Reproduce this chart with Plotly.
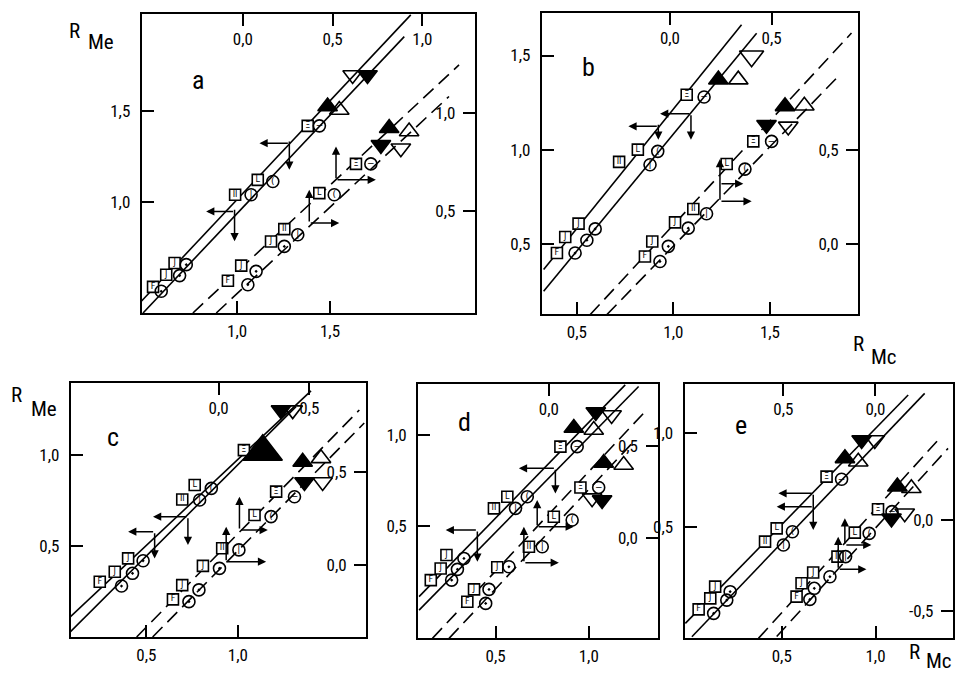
import plotly.graph_objects as go

W, H = 963, 681          # window size (reference pixel space)
OFF = 8                  # default body margin of the html page
FW, FH = W - 2 * OFF, H - 2 * OFF

# ====================== DATA ======================
# Each panel: upper group (squares/circles, solid lines) on bottom/left axes,
# lower group (dashed lines) on top/right axes.
# ---- panel a ----
A_SQ_X = [0.547, 0.618, 0.663, 0.989, 1.111, 1.380]
A_SQ_Y = [0.535, 0.602, 0.666, 1.040, 1.122, 1.418]
A_CI_X = [0.591, 0.690, 0.726, 1.075, 1.192, 1.443]
A_CI_Y = [0.511, 0.597, 0.657, 1.040, 1.113, 1.418]
A_TR_X = [1.487, 1.550, 1.702, 1.622]
A_TR_Y = [1.524, 1.505, 1.697, 1.697]
A_TR_K = ["fu", "ou", "fd", "od"]
A_LN_X = [[0.484, 1.935], [0.493, 1.900]]
A_LN_Y = [[0.456, 2.026], [0.392, 1.907]]
A_AR = [(1.281, 1.323, 1.120, 1.323), (1.281, 1.340, 1.281, 1.177),
        (0.986, 0.949, 0.833, 0.949), (0.986, 0.966, 0.986, 0.785)]
A2_SQ_X = [-0.083, -0.009, 0.157, 0.231, 0.426, 0.630]
A2_SQ_Y = [0.147, 0.224, 0.347, 0.410, 0.593, 0.742]
A2_CI_X = [0.028, 0.074, 0.231, 0.306, 0.509, 0.713]
A2_CI_Y = [0.127, 0.195, 0.322, 0.381, 0.585, 0.742]
A2_TR_X = [0.769, 0.815, 0.880, 0.926]
A2_TR_Y = [0.839, 0.924, 0.822, 0.907]
A2_TR_K = ["fd", "fu", "od", "ou"]
A2_LN_X = [[-0.278, 1.204], [-0.148, 1.148]]
A2_LN_Y = [[-0.017, 1.246], [-0.017, 1.085]]
A2_AR = [(0.519, 0.661, 0.519, 0.831), (0.519, 0.661, 0.741, 0.661),
         (0.370, 0.441, 0.370, 0.610), (0.370, 0.441, 0.537, 0.441)]
A_XT, A_XTT = [1.0, 1.5], ["1,0", "1,5"]
A_YT, A_YTT = [1.0, 1.5], ["1,0", "1,5"]
A2_XT, A2_XTT = [0.0, 0.5, 1.0], ["0,0", "0,5", "1,0"]
A2_YT, A2_YTT = [0.5, 1.0], ["0,5", "1,0"]

# ---- panel b ----
B_SQ_X = [0.397, 0.440, 0.509, 0.719, 0.816, 1.069]
B_SQ_Y = [0.451, 0.536, 0.607, 0.935, 1.000, 1.292]
B_CI_X = [0.491, 0.552, 0.595, 0.879, 0.919, 1.159]
B_CI_Y = [0.451, 0.519, 0.579, 0.920, 0.991, 1.280]
B_TR_X = [1.233, 1.336, 1.405]
B_TR_Y = [1.372, 1.372, 1.496]
B_TR_K = ["fu", "ou", "od"]
B_LN_X = [[0.328, 1.353], [0.328, 1.431]]
B_LN_Y = [[0.363, 1.664], [0.248, 1.619]]
B_AR = [(0.922, 1.124, 0.767, 1.124), (0.922, 1.140, 0.922, 1.053),
        (1.091, 1.191, 0.931, 1.191), (1.091, 1.191, 1.091, 1.053)]
B2_SQ_X = [-0.123, -0.087, 0.025, 0.115, 0.279, 0.410]
B2_SQ_Y = [-0.066, 0.014, 0.116, 0.187, 0.427, 0.548]
B2_CI_X = [-0.049, -0.008, 0.090, 0.180, 0.369, 0.500]
B2_CI_Y = [-0.093, -0.012, 0.085, 0.162, 0.400, 0.548]
B2_TR_X = [0.475, 0.566, 0.582, 0.661]
B2_TR_Y = [0.637, 0.735, 0.628, 0.738]
B2_TR_K = ["fd", "fu", "od", "ou"]
B2_LN_X = [[-0.393, 0.893], [-0.311, 0.828]]
B2_LN_Y = [[-0.377, 1.126], [-0.377, 0.895]]
B2_AR = [(0.246, 0.228, 0.246, 0.454), (0.246, 0.322, 0.361, 0.322),
         (0.246, 0.228, 0.402, 0.228)]
B_XT, B_XTT = [0.5, 1.0, 1.5], ["0,5", "1,0", "1,5"]
B_YT, B_YTT = [0.5, 1.0, 1.5], ["0,5", "1,0", "1,5"]
B2_XT, B2_XTT = [0.0, 0.5], ["0,0", "0,5"]
B2_YT, B2_YTT = [0.0, 0.5], ["0,0", "0,5"]

# ---- panel c ----
C_SQ_X = [0.245, 0.327, 0.400, 0.696, 0.764, 1.033]
C_SQ_Y = [0.304, 0.359, 0.432, 0.756, 0.835, 1.027]
C_CI_X = [0.364, 0.424, 0.482, 0.791, 0.855]
C_CI_Y = [0.280, 0.350, 0.419, 0.753, 0.817]
C_TR_X = [1.136, 1.236, 1.300]
C_TR_Y = [1.018, 1.247, 1.247]
C_TR_K = ["fu", "fd", "od"]
C_LN_X = [[0.085, 1.400], [0.085, 1.318]]
C_LN_Y = [[0.112, 1.353], [0.029, 1.266]]
C_AR = [(0.727, 0.661, 0.536, 0.661), (0.727, 0.661, 0.727, 0.505),
        (0.545, 0.579, 0.400, 0.579), (0.545, 0.579, 0.545, 0.432)]
C2_SQ_X = [-0.251, -0.200, -0.086, 0.020, 0.198, 0.317]
C2_SQ_Y = [-0.185, -0.108, -0.005, 0.090, 0.269, 0.394]
C2_CI_X = [-0.163, -0.108, 0.005, 0.112, 0.289, 0.418]
C2_CI_Y = [-0.197, -0.134, -0.018, 0.081, 0.260, 0.367]
C2_TR_X = [0.463, 0.473, 0.564, 0.573]
C2_TR_Y = [0.554, 0.446, 0.573, 0.446]
C2_TR_K = ["fu", "fd", "ou", "od"]
C2_LN_X = [[-0.451, 0.775], [-0.363, 0.802]]
C2_LN_Y = [[-0.387, 0.833], [-0.387, 0.763]]
C2_AR = [(0.115, 0.188, 0.115, 0.367), (0.115, 0.188, 0.271, 0.188),
         (0.042, 0.018, 0.042, 0.206), (0.042, 0.018, 0.262, 0.018)]
C_XT, C_XTT = [0.5, 1.0], ["0,5", "1,0"]
C_YT, C_YTT = [0.5, 1.0], ["0,5", "1,0"]
C2_XT, C2_XTT = [0.0, 0.5], ["0,0", "0,5"]
C2_YT, C2_YTT = [0.0, 0.5], ["0,0", "0,5"]

# ---- panel d ----
D_SQ_X = [0.152, 0.205, 0.236, 0.491, 0.563, 0.848]
D_SQ_Y = [0.203, 0.267, 0.341, 0.597, 0.661, 0.936]
D_CI_X = [0.264, 0.295, 0.330, 0.607, 0.670, 0.938]
D_CI_Y = [0.203, 0.262, 0.322, 0.597, 0.661, 0.936]
D_TR_X = [0.920, 1.027, 1.038, 1.123]
D_TR_Y = [1.038, 1.027, 1.126, 1.110]
D_TR_K = ["fu", "ou", "fd", "od"]
D_LN_X = [[0.089, 1.196], [0.089, 1.268]]
D_LN_Y = [[0.112, 1.275], [0.038, 1.266]]
D_AR = [(0.821, 0.817, 0.625, 0.817), (0.821, 0.817, 0.821, 0.679),
        (0.402, 0.478, 0.232, 0.478), (0.402, 0.478, 0.402, 0.304)]
D2_SQ_X = [-0.888, -0.815, -0.562, -0.217, 0.054, 0.344]
D2_SQ_Y = [-0.346, -0.279, -0.159, -0.047, 0.116, 0.275]
D2_CI_X = [-0.688, -0.652, -0.435, -0.072, 0.254, 0.543]
D2_CI_Y = [-0.355, -0.279, -0.156, -0.047, 0.098, 0.275]
D2_TR_X = [0.598, 0.815, 0.471, 0.580]
D2_TR_Y = [0.408, 0.397, 0.217, 0.207]
D2_TR_K = ["fu", "ou", "od", "fd"]
D2_LN_X = [[-1.268, 1.065], [-1.087, 0.924]]
D2_LN_Y = [[-0.545, 0.696], [-0.545, 0.524]]
D2_AR = [(-0.127, 0.062, -0.127, 0.207), (-0.127, 0.062, 0.272, 0.062),
         (-0.272, -0.134, -0.272, 0.062), (-0.272, -0.134, 0.109, -0.134)]
D_XT, D_XTT = [0.5, 1.0], ["0,5", "1,0"]
D_YT, D_YTT = [0.5, 1.0], ["0,5", "1,0"]
D2_XT, D2_XTT = [0.0, 1.0], ["0,0", "1,0"]
D2_YT, D2_YTT = [0.0, 0.5], ["0,0", "0,5"]

# ---- panel e ----
E_SQ_X = [0.057, 0.119, 0.145, 0.411, 0.473, 0.739]
E_SQ_Y = [0.057, 0.116, 0.179, 0.420, 0.491, 0.768]
E_CI_X = [0.137, 0.207, 0.225, 0.509, 0.557, 0.819]
E_CI_Y = [0.036, 0.107, 0.152, 0.402, 0.473, 0.754]
E_TR_X = [0.837, 0.908, 0.926, 0.996]
E_TR_Y = [0.866, 0.848, 0.964, 0.964]
E_TR_K = ["fu", "ou", "fd", "od"]
E_LN_X = [[-0.014, 1.174], [0.021, 1.262]]
E_LN_Y = [[-0.018, 1.205], [-0.089, 1.214]]
E_AR = [(0.668, 0.679, 0.482, 0.679), (0.668, 0.607, 0.473, 0.607),
        (0.668, 0.679, 0.668, 0.482)]
E2_SQ_X = [-0.428, -0.401, -0.338, -0.206, -0.112, 0.014]
E2_SQ_Y = [-0.423, -0.349, -0.290, -0.202, -0.070, 0.059]
E2_CI_X = [-0.356, -0.332, -0.247, -0.162, -0.034, 0.090]
E2_CI_Y = [-0.438, -0.377, -0.313, -0.202, -0.074, 0.046]
E2_TR_X = [0.119, 0.195, 0.087, 0.159]
E2_TR_Y = [0.184, 0.175, 0.009, 0.037]
E2_TR_K = ["fu", "ou", "fd", "od"]
E2_LN_X = [[-0.635, 0.357], [-0.536, 0.394]]
E2_LN_Y = [[-0.653, 0.460], [-0.643, 0.395]]
E2_AR = [(-0.166, -0.138, -0.166, 0.009), (-0.166, -0.138, -0.022, -0.138),
         (-0.202, -0.272, -0.202, -0.092), (-0.202, -0.272, -0.049, -0.272)]
E_XT, E_XTT = [0.5, 1.0], ["0,5", "1,0"]
E_YT, E_YTT = [0.5, 1.0], ["0,5", "1,0"]
E2_XT, E2_XTT = [-0.5, 0.0], ["0,5", "0,0"]
E2_YT, E2_YTT = [-0.5, 0.0], ["-0,5", "0,0"]

SQ_TEXT = ["F", "J", "J", "II", "L", "Ξ"]
CI_TEXT = ["", "", "", "|", "(", "−"]
CI_SYM = ["circle-open-dot", "circle-open-dot", "circle-open-dot",
          "circle-open", "circle-open", "circle-open"]

# ====================== LAYOUT (pixel boxes & calibrated ranges) ======================
PANELS = [
    dict(name="a", box=(142, 476, 14, 313), xr=[0.486, 2.281], yr=[0.392, 2.031],
         x2r=[-0.563, 1.293], y2r=[-0.017, 1.505], letter=(198, 80),
         g1=(A_SQ_X, A_SQ_Y, A_CI_X, A_CI_Y, A_TR_X, A_TR_Y, A_TR_K, A_LN_X, A_LN_Y, A_AR),
         g2=(A2_SQ_X, A2_SQ_Y, A2_CI_X, A2_CI_Y, A2_TR_X, A2_TR_Y, A2_TR_K, A2_LN_X, A2_LN_Y, A2_AR),
         t=(A_XT, A_XTT, A_YT, A_YTT, A2_XT, A2_XTT, A2_YT, A2_YTT), big={}),
    dict(name="b", box=(543, 860, 13, 314), xr=[0.319, 1.957], yr=[0.127, 1.726],
         x2r=[-0.630, 0.926], y2r=[-0.373, 1.233], letter=(590, 67),
         g1=(B_SQ_X, B_SQ_Y, B_CI_X, B_CI_Y, B_TR_X, B_TR_Y, B_TR_K, B_LN_X, B_LN_Y, B_AR),
         g2=(B2_SQ_X, B2_SQ_Y, B2_CI_X, B2_CI_Y, B2_TR_X, B2_TR_Y, B2_TR_K, B2_LN_X, B2_LN_Y, B2_AR),
         t=(B_XT, B_XTT, B_YT, B_YTT, B2_XT, B2_XTT, B2_YT, B2_YTT), big={2: 21}),
    dict(name="c", box=(71, 367, 383, 637), xr=[0.087, 1.702], yr=[0.000, 1.396],
         x2r=[-0.813, 0.813], y2r=[-0.387, 0.978], letter=(113, 437),
         g1=(C_SQ_X, C_SQ_Y, C_CI_X, C_CI_Y, C_TR_X, C_TR_Y, C_TR_K, C_LN_X, C_LN_Y, C_AR),
         g2=(C2_SQ_X, C2_SQ_Y, C2_CI_X, C2_CI_Y, C2_TR_X, C2_TR_Y, C2_TR_K, C2_LN_X, C2_LN_Y, C2_AR),
         t=(C_XT, C_XTT, C_YT, C_YTT, C2_XT, C2_XTT, C2_YT, C2_YTT), big={0: 34}),
    dict(name="d", box=(419, 659, 384, 638), xr=[0.084, 1.370], yr=[-0.115, 1.280],
         x2r=[-1.424, 1.185], y2r=[-0.543, 0.837], letter=(465, 422),
         g1=(D_SQ_X, D_SQ_Y, D_CI_X, D_CI_Y, D_TR_X, D_TR_Y, D_TR_K, D_LN_X, D_LN_Y, D_AR),
         g2=(D2_SQ_X, D2_SQ_Y, D2_CI_X, D2_CI_Y, D2_TR_X, D2_TR_Y, D2_TR_K, D2_LN_X, D2_LN_Y, D2_AR),
         t=(D_XT, D_XTT, D_YT, D_YTT, D2_XT, D2_XTT, D2_YT, D2_YTT), big={}),
    dict(name="e", box=(686, 955, 384, 638), xr=[-0.018, 1.413], yr=[-0.096, 1.264],
         x2r=[-1.036, 0.421], y2r=[-0.651, 0.750], letter=(743, 425),
         g1=(E_SQ_X, E_SQ_Y, E_CI_X, E_CI_Y, E_TR_X, E_TR_Y, E_TR_K, E_LN_X, E_LN_Y, E_AR),
         g2=(E2_SQ_X, E2_SQ_Y, E2_CI_X, E2_CI_Y, E2_TR_X, E2_TR_Y, E2_TR_K, E2_LN_X, E2_LN_Y, E2_AR),
         t=(E_XT, E_XTT, E_YT, E_YTT, E2_XT, E2_XTT, E2_YT, E2_YTT), big={}),
]

FONT = "Liberation Sans Narrow, Roboto Condensed, DejaVu Sans Condensed, Roboto, sans-serif"
TF = dict(family=FONT, size=17, color="black")
TRI = {"fu": "triangle-up", "fd": "triangle-down",
       "ou": "triangle-up-open", "od": "triangle-down-open"}

fig = go.Figure()
axes = {}
annotations = []


def px2paper(px, py):
    return (px - OFF) / FW, 1 - (py - OFF) / FH


def key(a, n):
    return a if n == 1 else f"{a}{n}"


def ref(a, n):
    return a if n == 1 else f"{a}{n}"


def add_group(g, xn, yn, dashed, big):
    sqx, sqy, cix, ciy, trx, try_, trk, lnx, lny, arr = g
    for lx, ly in zip(lnx, lny):
        fig.add_trace(go.Scatter(x=lx, y=ly, xaxis=xn, yaxis=yn, mode="lines",
                                 line=dict(color="black", width=1.6,
                                           dash="14px,7px" if dashed else "solid"),
                                 showlegend=False, hoverinfo="skip"))
    fig.add_trace(go.Scatter(x=sqx, y=sqy, xaxis=xn, yaxis=yn, mode="markers+text",
                             text=SQ_TEXT[:len(sqx)], textposition="middle center",
                             textfont=dict(family="DejaVu Sans", size=8, color="black"),
                             marker=dict(symbol="square", size=11, color="white", opacity=1,
                                         line=dict(color="black", width=1.6)),
                             showlegend=False))
    fig.add_trace(go.Scatter(x=cix, y=ciy, xaxis=xn, yaxis=yn, mode="markers+text",
                             text=CI_TEXT[:len(cix)], textposition="middle center",
                             textfont=dict(family="DejaVu Sans", size=9, color="black"),
                             marker=dict(symbol=CI_SYM[:len(cix)], size=12, color="black",
                                         opacity=1, line=dict(color="black", width=1.6)),
                             showlegend=False))
    sizes = [big.get(j, 17) for j in range(len(trx))]
    fig.add_trace(go.Scatter(x=trx, y=try_, xaxis=xn, yaxis=yn, mode="markers",
                             marker=dict(symbol=[TRI[k] for k in trk], size=sizes,
                                         color="#000000", opacity=1,
                                         line=dict(color="#000000", width=1.6)),
                             showlegend=False))
    for (x0, y0, x1, y1) in arr:
        annotations.append(dict(x=x1, y=y1, ax=x0, ay=y0, xref=xn, yref=yn,
                                axref=xn, ayref=yn, text="", showarrow=True,
                                arrowhead=2, arrowsize=1.1, arrowwidth=1.5,
                                arrowcolor="black", standoff=0, startstandoff=0))


for i, P in enumerate(PANELS):
    n1, n2 = 2 * i + 1, 2 * i + 2
    x1n, y1n, x2n, y2n = ref("x", n1), ref("y", n1), ref("x", n2), ref("y", n2)
    l, r, t, b = P["box"]
    x0p, y1p = px2paper(l, t)
    x1p, y0p = px2paper(r, b)
    dx = [x0p, x1p]
    dy = [y0p, y1p]
    xt, xtt, yt, ytt, x2t, x2tt, y2t, y2tt = P["t"]
    common = dict(showgrid=False, zeroline=False, ticks="inside", ticklen=12,
                  tickwidth=1.6, tickcolor="black", tickfont=TF, fixedrange=True)
    axes[key("xaxis", n1)] = dict(domain=dx, range=P["xr"], anchor=y1n, tickvals=xt,
                                  ticktext=xtt, showline=True, mirror=True, linewidth=2,
                                  linecolor="black", ticklabelstandoff=2, **common)
    axes[key("yaxis", n1)] = dict(domain=dy, range=P["yr"], anchor=x1n, tickvals=yt,
                                  ticktext=ytt, showline=True, mirror=True, linewidth=2,
                                  linecolor="black", ticklabelstandoff=6, **common)
    axes[key("xaxis", n2)] = dict(range=P["x2r"], overlaying=x1n, anchor=y1n, side="top",
                                  tickvals=x2t, ticktext=x2tt, showline=False,
                                  ticklabelposition="inside", ticklabelstandoff=8, **common)
    axes[key("yaxis", n2)] = dict(range=P["y2r"], overlaying=y1n, anchor=x1n, side="right",
                                  tickvals=y2t, ticktext=y2tt, showline=False,
                                  ticklabelposition="inside", ticklabelstandoff=8, **common)
    add_group(P["g1"], x1n, y1n, False, P["big"])
    add_group(P["g2"], x2n, y2n, True, {})
    lx, ly = px2paper(*P["letter"])
    annotations.append(dict(x=lx, y=ly, xref="paper", yref="paper",
                            xanchor="center", yanchor="middle",
                            text=P["name"], showarrow=False,
                            font=dict(family=FONT, size=26, color="black")))

# axis titles R_Me / R_Mc
TITLES = [("R", 75, 31), ("Me", 101, 42), ("R", 860, 344), ("Mc", 886, 357),
          ("R", 916, 652), ("Mc", 941, 661), ("R", 17, 395), ("Me", 44, 409)]
for txt, px, py in TITLES:
    ax_, ay_ = px2paper(px, py)
    annotations.append(dict(x=ax_, y=ay_, xref="paper", yref="paper",
                            xanchor="center", yanchor="middle",
                            text=txt, showarrow=False,
                            font=dict(family=FONT, size=21, color="black")))

fig.update_layout(width=FW, height=FH, margin=dict(l=0, r=0, t=0, b=0),
                  paper_bgcolor="white", plot_bgcolor="white",
                  showlegend=False, annotations=annotations, **axes)
fig.write_html("out.html")
